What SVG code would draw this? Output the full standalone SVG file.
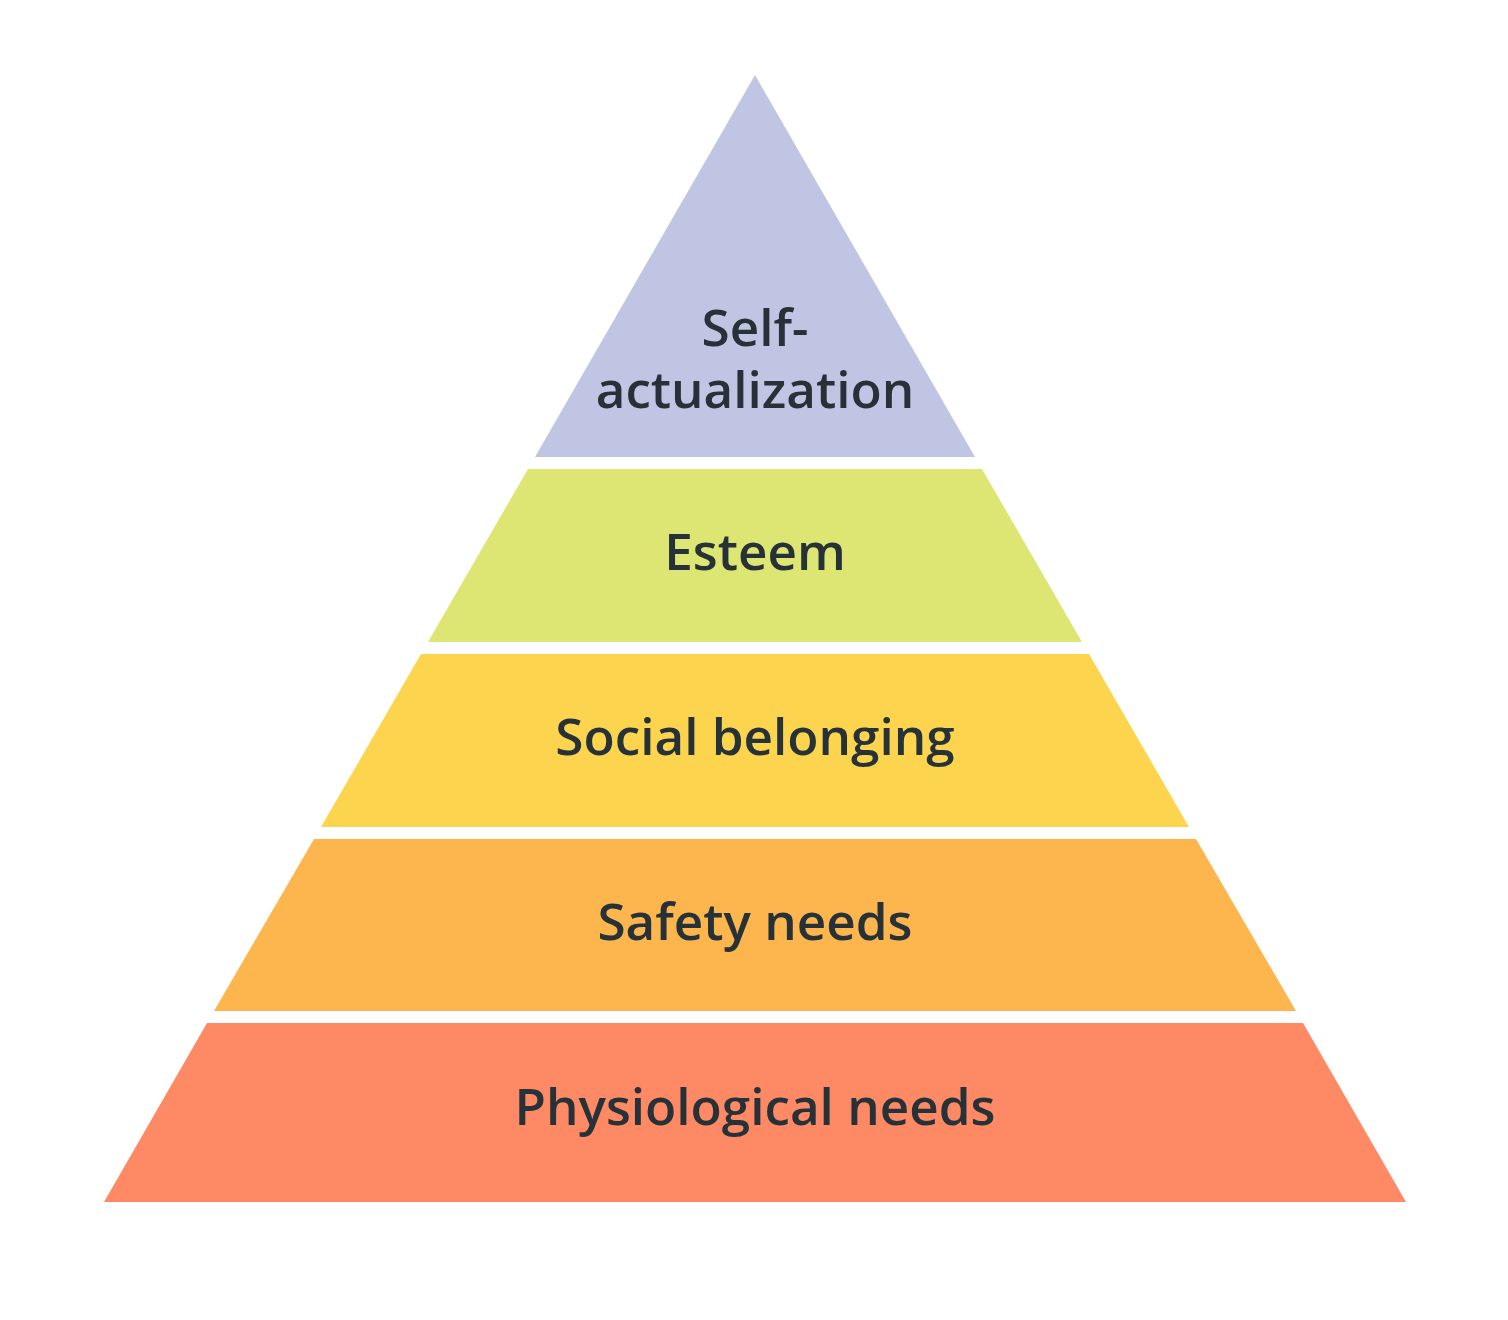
<svg xmlns="http://www.w3.org/2000/svg" width="1508" height="1320" viewBox="0 0 1508 1320">
<style>
.lbl{font-family:"Open Sans","Noto Sans","Liberation Sans",sans-serif;font-weight:600;font-size:51.2px;fill:#263238;text-anchor:middle}
</style>
<rect width="1508" height="1320" fill="#ffffff"/>
<g id="self-actualization">
<polygon points="755,75 975,457 535,457" fill="#c0c5e3"/>
<text class="lbl" x="755" y="346"><tspan x="755" y="346">Self-</tspan><tspan x="755" y="408">actualization</tspan></text>
</g>
<g id="esteem">
<polygon points="528,469 982,469 1082,642 428,642" fill="#dde673"/>
<text class="lbl" x="755" y="570">Esteem</text>
</g>
<g id="social-belonging">
<polygon points="421,654 1089,654 1189,827 321,827" fill="#fdd44e"/>
<text class="lbl" x="755" y="755">Social belonging</text>
</g>
<g id="safety-needs">
<polygon points="314,839 1196,839 1296,1011 214,1011" fill="#fdb54e"/>
<text class="lbl" x="755" y="940">Safety needs</text>
</g>
<g id="physiological-needs">
<polygon points="207,1023 1303,1023 1406,1202 104,1202" fill="#fe8965"/>
<text class="lbl" x="755" y="1125">Physiological needs</text>
</g>
</svg>
